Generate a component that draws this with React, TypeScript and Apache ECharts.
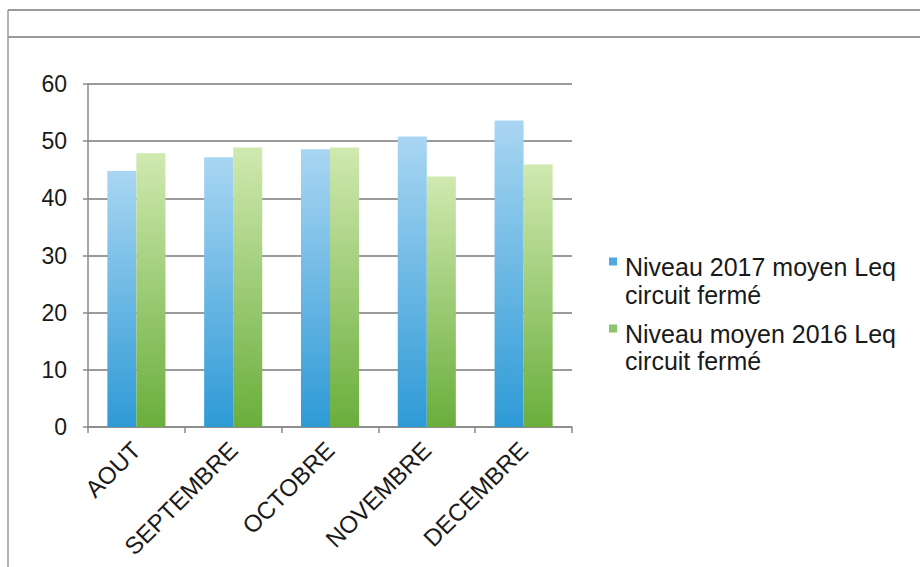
import React, { useEffect, useRef } from "react";
import * as echarts from "echarts";

const categories = ["AOUT", "SEPTEMBRE", "OCTOBRE", "NOVEMBRE", "DECEMBRE"];
const series2017 = [44.8, 47.2, 48.6, 50.8, 53.6];
const series2016 = [47.9, 48.9, 48.9, 43.8, 45.9];
const seriesNames = ["Niveau 2017 moyen Leq", "Niveau moyen 2016 Leq"];
const legendSecondLine = ["circuit fermé", "circuit fermé"];

const FONT = "'Liberation Sans', Arial, Helvetica, sans-serif";

export default function App() {
  const ref = useRef<HTMLDivElement>(null);
  useEffect(() => {
    document.body.style.margin = "0";
    const chart = echarts.init(ref.current!, null, { renderer: "svg" });
    const blueGrad = new echarts.graphic.LinearGradient(0, 0, 0, 1, [
      { offset: 0, color: "#a9d6f2" },
      { offset: 1, color: "#2e9ad6" },
    ]);
    const greenGrad = new echarts.graphic.LinearGradient(0, 0, 0, 1, [
      { offset: 0, color: "#d0e9b0" },
      { offset: 1, color: "#6aae3c" },
    ]);
    const legendTop = 254;
    const lineH = 24;
    const legendGap = 42;
    const secondLines = legendSecondLine.map((t, i) => ({
      type: "text",
      left: 625,
      top: legendTop + i * (lineH + legendGap) + lineH + 4,
      style: {
        text: t,
        fontFamily: FONT,
        fontSize: 25,
        fill: "#1a1a1a",
      },
    }));
    const iconPath = "path://M0,0L8,0L8,8L0,8ZM0,18L0.01,18";
    chart.setOption({
      animation: false,
      backgroundColor: "#ffffff",
      grid: {
        left: 88,
        right: 348,
        top: 84,
        bottom: 140,
        containLabel: false,
        outerBoundsMode: "none",
      },
      graphic: [
        { type: "line", shape: { x1: 8, y1: 10, x2: 920, y2: 10 }, style: { stroke: "#9a9a9a", lineWidth: 2 } },
        { type: "line", shape: { x1: 8, y1: 37, x2: 920, y2: 37 }, style: { stroke: "#9a9a9a", lineWidth: 2 } },
        { type: "line", shape: { x1: 8, y1: 10, x2: 8, y2: 567 }, style: { stroke: "#9a9a9a", lineWidth: 1.5 } },
        ...secondLines,
      ],
      legend: {
        orient: "vertical",
        left: 609,
        top: legendTop,
        padding: 0,
        itemWidth: 8,
        itemHeight: 18,
        itemGap: legendGap,
        icon: iconPath,
        textStyle: {
          fontFamily: FONT,
          fontSize: 25,
          color: "#1a1a1a",
          lineHeight: lineH,
          padding: [0, 0, 0, 3],
        },
        data: [
          { name: seriesNames[0], itemStyle: { color: "#4fa9e0", borderWidth: 0 } },
          { name: seriesNames[1], itemStyle: { color: "#8cc46a", borderWidth: 0 } },
        ],
      },
      xAxis: {
        type: "category",
        data: categories,
        axisLine: { lineStyle: { color: "#8a8a8a", width: 1.5 } },
        axisTick: { show: true, alignWithLabel: false, length: 6, lineStyle: { color: "#8a8a8a", width: 1.5 } },
        axisLabel: {
          rotate: 45,
          interval: 0,
          fontFamily: FONT,
          fontSize: 24,
          color: "#1a1a1a",
          margin: 19,
        },
      },
      yAxis: {
        type: "value",
        min: 0,
        max: 60,
        interval: 10,
        axisLine: { show: true, lineStyle: { color: "#8a8a8a", width: 1.5 } },
        axisTick: { show: true, length: 5, lineStyle: { color: "#8a8a8a", width: 1.5 } },
        splitLine: { lineStyle: { color: "#7a7a7a", width: 1.5 } },
        axisLabel: { fontFamily: FONT, fontSize: 23, color: "#1a1a1a", margin: 21 },
      },
      series: [
        {
          name: seriesNames[0],
          type: "bar",
          data: series2017,
          barGap: "0%",
          barCategoryGap: "40%",
          itemStyle: { color: blueGrad },
        },
        {
          name: seriesNames[1],
          type: "bar",
          data: series2016,
          barGap: "0%",
          barCategoryGap: "40%",
          itemStyle: { color: greenGrad },
        },
      ],
    });
    return () => chart.dispose();
  }, []);
  return <div ref={ref} style={{ width: 920, height: 567 }} />;
}
